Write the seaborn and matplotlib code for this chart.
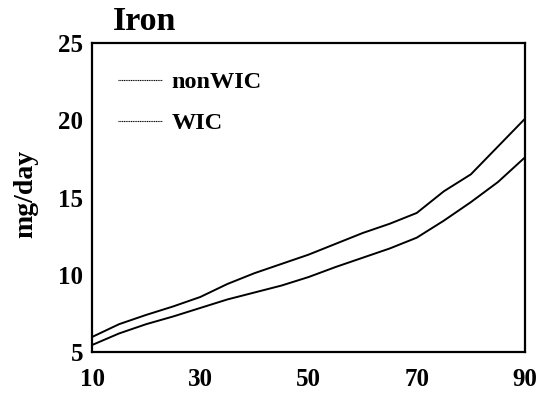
import pandas as pd
import seaborn as sns
import matplotlib.pyplot as plt

# edades y consumo de hierro (mg/día)
edad = [10, 15, 20, 25, 30, 35, 40, 45, 50, 55, 60, 65, 70, 75, 80, 85, 90]
non_wic = [5.97, 6.8, 7.4, 7.95, 8.56, 9.4, 10.1, 10.7, 11.3, 12.0, 12.7, 13.3, 14.0, 15.4, 16.5, 18.3, 20.1]
wic = [5.45, 6.2, 6.8, 7.3, 7.85, 8.4, 8.85, 9.3, 9.85, 10.5, 11.1, 11.7, 12.4, 13.5, 14.7, 16.0, 17.6]

datos = pd.DataFrame({
    "edad": edad * 2,
    "hierro": non_wic + wic,
    "grupo": ["nonWIC"] * len(edad) + ["WIC"] * len(edad),
})

sns.set_style("white")
plt.rcParams["font.family"] = ["Liberation Serif", "DejaVu Serif"]
plt.rcParams["font.weight"] = "bold"
plt.rcParams["text.color"] = "black"
plt.rcParams["xtick.color"] = "black"
plt.rcParams["ytick.color"] = "black"

W, H = 539, 398
fig = plt.figure(figsize=(W / 100, H / 100), dpi=100)
ax = fig.add_axes([92 / W, 1 - 352 / H, 433 / W, 309 / H])

sns.lineplot(data=datos, x="edad", y="hierro", hue="grupo",
             palette={"nonWIC": "black", "WIC": "black"},
             linewidth=1.4, ax=ax, legend=False)

ax.set_xlim(10, 90)
ax.set_ylim(5, 25)
ax.set_xticks([10, 30, 50, 70, 90])
ax.set_yticks([5, 10, 15, 20, 25])
ax.tick_params(direction="inout", length=9, width=1.2, labelsize=18)
ax.tick_params(axis="x", pad=7)
ax.tick_params(axis="y", pad=2)
for lab in ax.get_xticklabels() + ax.get_yticklabels():
    lab.set_fontweight("bold")
for s in ax.spines.values():
    s.set_color("black")
    s.set_linewidth(1.6)

ax.set_xlabel("")
ax.set_ylabel("")
fig.text(26 / W, 1 - 194 / H, "mg/day", fontsize=20, fontweight="bold",
         rotation=90, ha="center", va="center")

# leyenda a mano como en el original
lineas = [plt.Line2D([], [], color="black", lw=0.8, ls=(0, (1, 0.6))) for _ in range(2)]
ax.legend(lineas, ["nonWIC", "WIC"], loc="upper left", frameon=False,
          bbox_to_anchor=(118 / W, 1 - 71 / H), bbox_transform=fig.transFigure,
          borderpad=0, borderaxespad=0, handlelength=1.8, handletextpad=0.4,
          labelspacing=0.8, prop={"size": 17.5, "weight": "bold"})

fig.text(145 / W, 1 - 21 / H, "Iron", fontsize=24.5, fontweight="bold",
         ha="center", va="center")

fig.savefig("out.png", dpi=100)
